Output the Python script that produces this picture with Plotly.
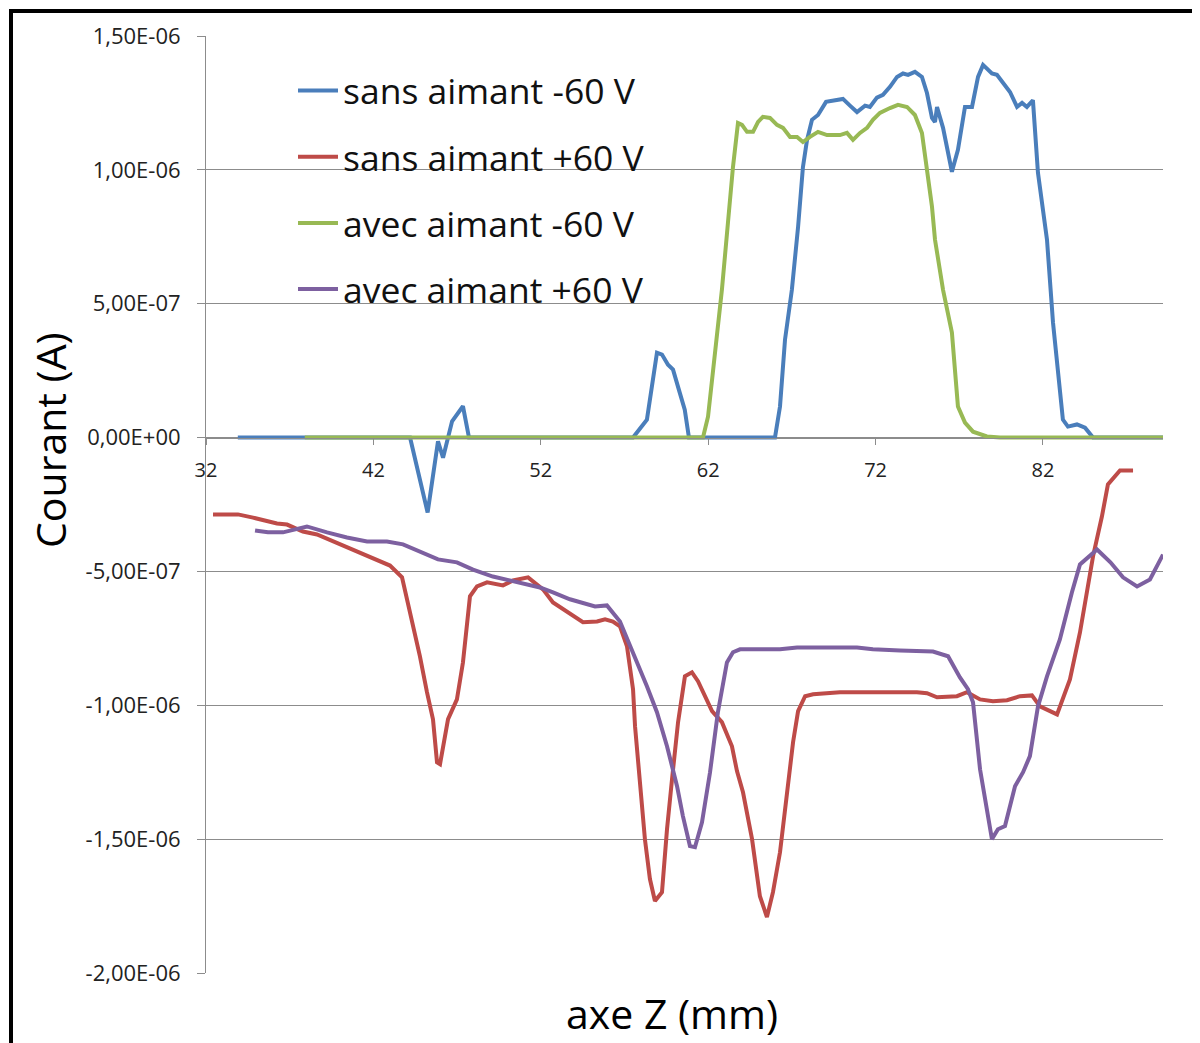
import plotly.graph_objects as go

# Series names
names = ["sans aimant -60 V", "sans aimant +60 V", "avec aimant -60 V", "avec aimant +60 V"]
colors = ["#4A7EBB", "#BE4B48", "#98B954", "#7D60A0"]

# axe Z (mm) / courant in units of 1e-7 A
blue_x = [33.9, 44.19, 45.24, 45.86, 46.16, 46.70, 47.35, 47.71, 57.51, 58.34, 58.94, 59.24, 59.6, 59.9, 60.3, 60.6,
          60.85, 65.99, 66.29, 66.59, 67.0, 67.37, 67.66, 67.9, 68.2, 68.56, 69.04, 69.46, 70.05, 70.47, 70.89, 71.37,
          71.66, 72.08, 72.44, 72.86, 73.28, 73.64, 73.94, 74.35, 74.77, 75.07, 75.37, 75.55, 75.67, 76.03, 76.27,
          76.56, 76.92, 77.34, 77.76, 78.12, 78.42, 78.95, 79.25, 79.61, 80.03, 80.45, 80.75, 81.04, 81.4, 81.7, 82.24,
          82.6, 83.19, 83.49, 84.03, 84.51, 84.99, 89.17]
blue_y = [0, 0, -2.8, -0.14, -0.75, 0.61, 1.17, 0, 0, 0.67, 3.17, 3.1, 2.72, 2.54, 1.68, 1.04, 0, 0, 1.16, 3.66, 5.52,
          7.87, 10.1, 11.1, 11.87, 12.05, 12.54, 12.6, 12.65, 12.4, 12.16, 12.4, 12.35, 12.7, 12.8, 13.1, 13.47, 13.6,
          13.55, 13.66, 13.47, 12.87, 11.94, 11.79, 12.35, 11.57, 10.75, 9.93, 10.75, 12.35, 12.35, 13.47, 13.92, 13.6,
          13.55, 13.25, 12.91, 12.35, 12.5, 12.35, 12.6, 9.89, 7.39, 4.29, 0.67, 0.41, 0.49, 0.37, 0, 0]

red_x = [32.42, 33.91, 34.81, 36.24, 36.84, 37.79, 38.63, 40.0, 41.02, 42.21, 42.99, 43.71, 44.19, 44.78, 45.2, 45.56,
         45.8, 45.98, 46.46, 46.99, 47.35, 47.77, 48.19, 48.79, 49.74, 50.34, 51.24, 52.13, 52.73, 53.33, 54.52, 55.36,
         55.84, 56.31, 56.73, 57.15, 57.51, 57.63, 57.93, 58.22, 58.52, 58.82, 59.24, 59.54, 59.84, 60.2, 60.61, 61.03,
         61.39, 61.81, 62.23, 62.82, 63.42, 63.72, 64.08, 64.62, 65.09, 65.51, 65.87, 66.29, 66.71, 67.07, 67.37, 67.79,
         68.27, 69.87, 72.26, 74.47, 75.07, 75.67, 76.86, 77.46, 78.24, 79.01, 79.85, 80.63, 81.34, 81.82, 82.84, 83.61,
         84.21, 84.99, 85.52, 85.88, 86.6, 87.38]
red_y = [-2.87, -2.87, -2.99, -3.21, -3.25, -3.51, -3.62, -3.99, -4.25, -4.55, -4.78, -5.22, -6.53, -8.17, -9.51,
         -10.52, -12.13, -12.2, -10.52, -9.78, -8.4, -5.93, -5.56, -5.41, -5.52, -5.34, -5.22, -5.67, -6.16, -6.42,
         -6.9, -6.87, -6.79, -6.87, -7.05, -7.8, -9.4, -10.78, -13.02, -15.0, -16.49, -17.31, -16.98, -14.63, -12.76,
         -10.63, -8.92, -8.77, -9.1, -9.66, -10.22, -10.63, -11.53, -12.46, -13.25, -15.0, -17.13, -17.91, -16.98,
         -15.49, -13.25, -11.38, -10.22, -9.66, -9.59, -9.51, -9.51, -9.51, -9.55, -9.7, -9.66, -9.51, -9.78, -9.85,
         -9.81, -9.66, -9.63, -10.04, -10.34, -9.03, -7.28, -4.44, -2.95, -1.75, -1.23, -1.23]

green_x = [37.9, 61.69, 61.99, 62.41, 62.82, 63.18, 63.48, 63.78, 64.02, 64.32, 64.68, 64.98, 65.27, 65.69, 66.11,
           66.47, 66.89, 67.31, 67.66, 68.08, 68.56, 69.1, 69.46, 69.87, 70.29, 70.65, 71.07, 71.49, 71.84, 72.26,
           72.86, 73.34, 73.88, 74.35, 74.77, 75.07, 75.37, 75.55, 76.03, 76.56, 76.74, 76.92, 77.34, 77.82, 78.65,
           79.43, 89.17]
green_y = [0, 0, 0.78, 3.02, 5.52, 8.02, 10.1, 11.75, 11.68, 11.42, 11.42, 11.79, 11.98, 11.94, 11.68, 11.57, 11.23,
           11.23, 11.04, 11.23, 11.42, 11.3, 11.3, 11.3, 11.38, 11.12, 11.38, 11.57, 11.87, 12.13, 12.31, 12.43, 12.35,
           12.05, 11.38, 10.1, 8.62, 7.39, 5.52, 3.92, 2.43, 1.16, 0.56, 0.22, 0.04, 0, 0]

purple_x = [34.93, 35.7, 36.6, 38.03, 39.23, 40.42, 41.62, 42.81, 43.77, 44.78, 45.86, 46.99, 47.95, 49.14, 50.58,
            51.95, 52.73, 53.74, 55.24, 55.95, 56.73, 57.51, 58.34, 58.94, 59.54, 60.14, 60.49, 60.91, 61.21, 61.63,
            62.11, 62.58, 63.12, 63.48, 63.9, 66.29, 67.31, 70.89, 71.84, 73.46, 75.43, 76.33, 77.04, 77.52, 77.82,
            78.24, 78.65, 78.95, 79.31, 79.73, 80.33, 80.81, 81.22, 81.7, 82.24, 83.01, 83.73, 84.21, 85.23, 86.03,
            86.78, 87.62, 88.39, 89.17]
purple_y = [-3.47, -3.54, -3.54, -3.32, -3.54, -3.73, -3.88, -3.88, -3.99, -4.25, -4.55, -4.66, -4.93, -5.19, -5.41,
            -5.6, -5.78, -6.04, -6.31, -6.27, -6.87, -8.02, -9.29, -10.26, -11.53, -13.02, -14.14, -15.26, -15.3,
            -14.37, -12.5, -10.26, -8.4, -8.02, -7.91, -7.91, -7.84, -7.84, -7.91, -7.95, -7.99, -8.17, -8.96, -9.4,
            -9.89, -12.39, -13.99, -15.0, -14.63, -14.51, -13.02, -12.5, -11.9, -10.04, -8.92, -7.54, -5.78, -4.74,
            -4.18, -4.66, -5.22, -5.56, -5.3, -4.37]

y_tickvals = [1.5e-6, 1.0e-6, 5e-7, 0, -5e-7, -1.0e-6, -1.5e-6, -2.0e-6]
y_ticktext = ["1,50E-06", "1,00E-06", "5,00E-07", "0,00E+00", "-5,00E-07", "-1,00E-06", "-1,50E-06", "-2,00E-06"]
x_tickvals = [32, 42, 52, 62, 72, 82]

UNIT = 1e-7
series = [(blue_x, blue_y), (red_x, red_y), (green_x, green_y), (purple_x, purple_y)]

FONT = "Open Sans"
fig = go.Figure()
for i, ((xs, ys), name, col) in enumerate(zip(series, names, colors)):
    fig.add_trace(go.Scatter(
        x=xs, y=[v * UNIT for v in ys], mode="lines", name=name,
        line=dict(color=col, width=4), legendgroup=f"g{i}",
    ))

# page body margin offsets the figure by 8 px
OFF = 8
W, H = 1200 - OFF, 1043 - OFF
L, T = 206 - OFF, 36 - OFF
R = W - (1163 - OFF)
B = H - (973 - OFF)
pw, ph = W - L - R, H - T - B

def px_x(p):
    return (p - OFF - L) / pw

def px_y(p):
    return (H - B - (p - OFF)) / ph

fig.update_layout(
    width=W, height=H,
    margin=dict(l=L, r=R, t=T, b=B),
    paper_bgcolor="white", plot_bgcolor="white",
    font=dict(family=FONT, color="#222222"),
    showlegend=True,
    legend=dict(
        x=px_x(293), y=px_y(61), xanchor="left", yanchor="top",
        font=dict(size=35.5, family=FONT, color="#111111"),
        bgcolor="rgba(0,0,0,0)", tracegroupgap=17, itemwidth=40,
    ),
    xaxis=dict(
        range=[32, 89.17], tickvals=x_tickvals, ticktext=[str(v) for v in x_tickvals],
        showgrid=False, zeroline=False, showline=True, linecolor="#8c8c8c", linewidth=1,
        ticks="outside", ticklen=6, tickcolor="#8c8c8c",
        anchor="free", position=px_y(438), ticklabelstandoff=8,
        tickfont=dict(size=20, family=FONT, color="#222222"),
    ),
    yaxis=dict(
        range=[-2.0e-6, 1.5e-6], tickvals=y_tickvals, ticktext=y_ticktext,
        showgrid=True, gridcolor="#8c8c8c", gridwidth=1, zeroline=False,
        showline=True, linecolor="#8c8c8c", linewidth=1,
        ticks="outside", ticklen=8, tickcolor="#8c8c8c", ticklabelstandoff=12,
        tickfont=dict(size=22, family=FONT, color="#222222"),
    ),
    annotations=[
        dict(text="Courant (A)", xref="paper", yref="paper", x=px_x(50), y=px_y(440),
             textangle=-90, showarrow=False, font=dict(size=41, family=FONT, color="#000000"),
             xanchor="center", yanchor="middle"),
        dict(text="axe Z (mm)", xref="paper", yref="paper", x=px_x(672), y=px_y(1013),
             showarrow=False, font=dict(size=41, family=FONT, color="#000000"),
             xanchor="center", yanchor="middle"),
    ],
    shapes=[
        dict(type="line", xref="paper", yref="paper", x0=px_x(11), x1=px_x(11), y0=px_y(9), y1=px_y(1060),
             line=dict(color="black", width=4)),
        dict(type="line", xref="paper", yref="paper", x0=px_x(9), x1=px_x(1220), y0=px_y(11), y1=px_y(11),
             line=dict(color="black", width=4)),
    ],
)

fig.write_html("out.html")
